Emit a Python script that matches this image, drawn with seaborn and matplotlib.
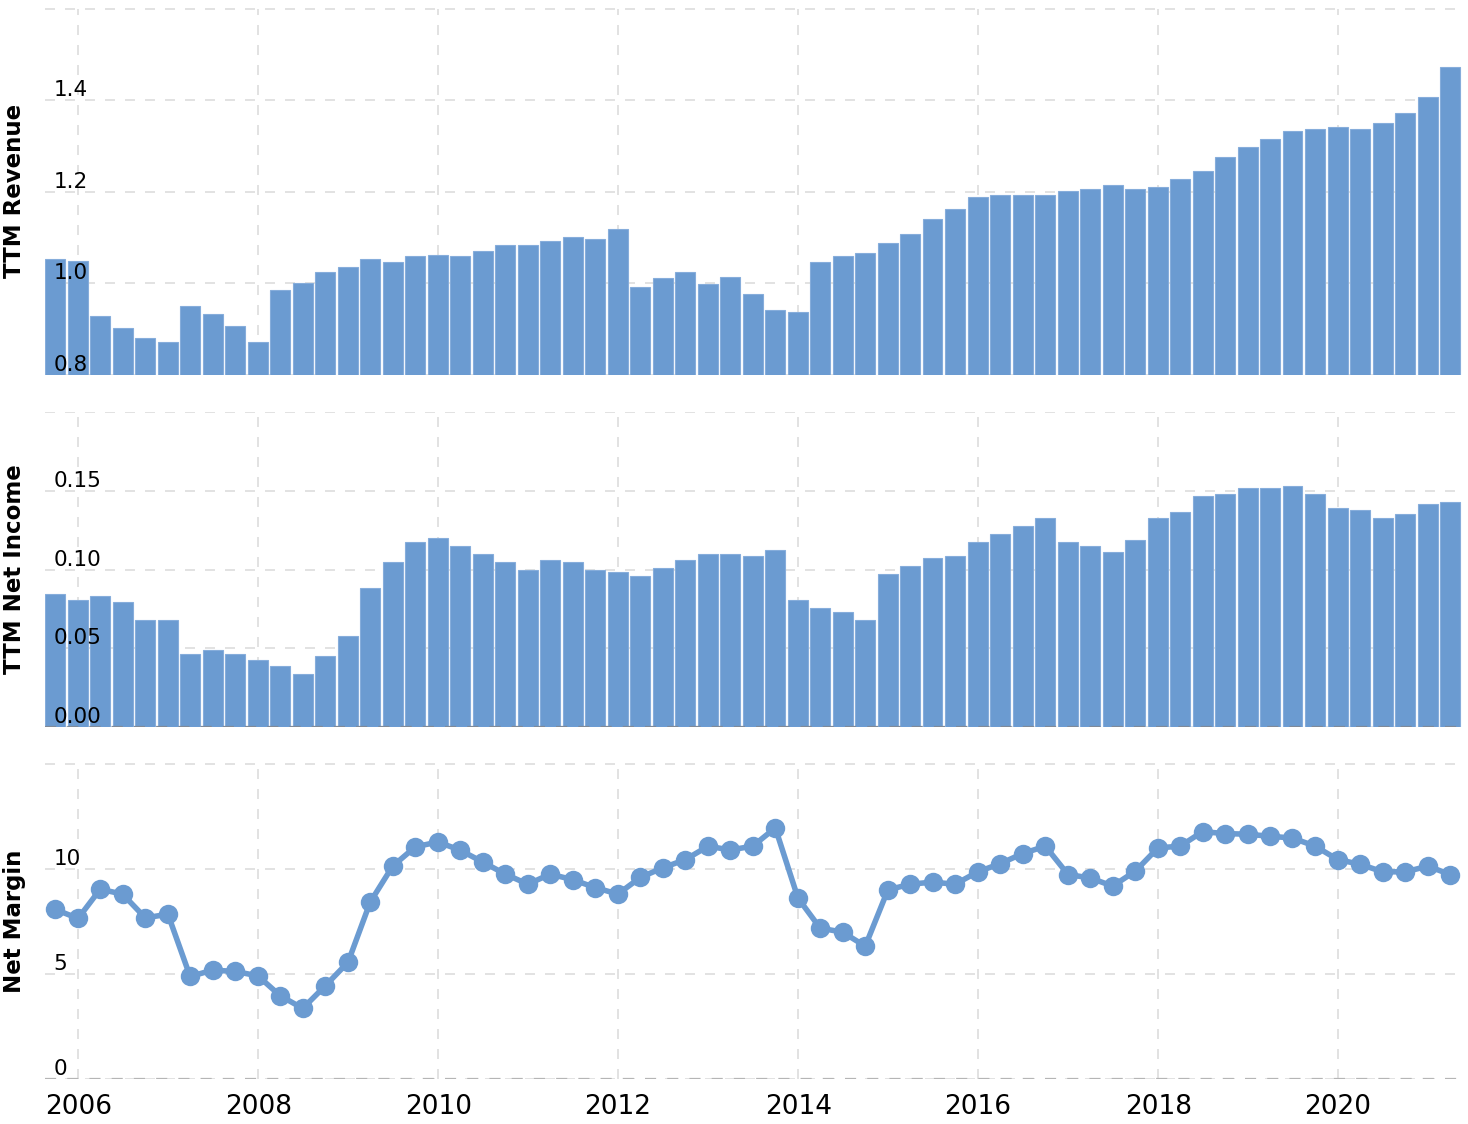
import numpy as np
import pandas as pd
import matplotlib
matplotlib.use("Agg")
import matplotlib.pyplot as plt
import matplotlib.dates as mdates
import seaborn as sns

# quarterly data, quarter ends 2005-09-30 .. 2021-03-31
quarters = pd.date_range("2005-09-30", "2021-03-31", freq="QE")

ttm_revenue = [
    1.054, 1.050, 0.928, 0.902, 0.880, 0.872, 0.950, 0.933, 0.907, 0.872,
    0.985, 1.002, 1.024, 1.037, 1.054, 1.046, 1.059, 1.063, 1.059, 1.072,
    1.085, 1.085, 1.093, 1.102, 1.098, 1.120, 0.993, 1.011, 1.024, 0.998,
    1.015, 0.976, 0.941, 0.937, 1.046, 1.059, 1.067, 1.089, 1.107, 1.141,
    1.163, 1.189, 1.193, 1.193, 1.193, 1.202, 1.207, 1.215, 1.207, 1.211,
    1.228, 1.246, 1.276, 1.298, 1.315, 1.333, 1.337, 1.341, 1.337, 1.350,
    1.372, 1.407, 1.472]

ttm_net_income = [
    0.0845, 0.0807, 0.0833, 0.0794, 0.0680, 0.0680, 0.0464, 0.0489, 0.0464, 0.0426,
    0.0388, 0.0337, 0.0451, 0.0578, 0.0883, 0.1049, 0.1176, 0.1201, 0.1150, 0.1100,
    0.1049, 0.0998, 0.1061, 0.1049, 0.0998, 0.0985, 0.0960, 0.1011, 0.1061, 0.1100,
    0.1100, 0.1087, 0.1125, 0.0807, 0.0756, 0.0731, 0.0680, 0.0972, 0.1023, 0.1074,
    0.1087, 0.1176, 0.1227, 0.1278, 0.1328, 0.1176, 0.1150, 0.1112, 0.1189, 0.1328,
    0.1367, 0.1468, 0.1481, 0.1519, 0.1519, 0.1532, 0.1481, 0.1392, 0.1379, 0.1328,
    0.1354, 0.1417, 0.1430]

net_margin = [
    8.07, 7.64, 9.03, 8.80, 7.67, 7.84, 4.88, 5.18, 5.12, 4.91,
    3.96, 3.36, 4.44, 5.56, 8.42, 10.13, 11.05, 11.28, 10.89, 10.33,
    9.75, 9.27, 9.75, 9.49, 9.11, 8.80, 9.59, 10.05, 10.44, 11.08,
    10.90, 11.08, 11.95, 8.61, 7.18, 6.99, 6.32, 9.00, 9.27, 9.37,
    9.27, 9.86, 10.25, 10.73, 11.08, 9.73, 9.57, 9.18, 9.89, 11.00,
    11.08, 11.77, 11.68, 11.65, 11.55, 11.47, 11.08, 10.44, 10.22, 9.86,
    9.86, 10.13, 9.73]

rev_ticks = [0.8, 1.0, 1.2, 1.4, 1.6]
rev_labels = ["0.8", "1.0", "1.2", "1.4", ""]
inc_ticks = [0.0, 0.05, 0.10, 0.15, 0.20]
inc_labels = ["0.00", "0.05", "0.10", "0.15", ""]
mar_ticks = [0, 5, 10, 15]
mar_labels = ["0", "5", "10", ""]

df = pd.DataFrame({
    "date": mdates.date2num(quarters.to_pydatetime()),
    "revenue": ttm_revenue,
    "income": ttm_net_income,
    "margin": net_margin,
})

sns.set_theme(style="white")
plt.rcParams["font.family"] = ["DejaVu Sans"]

blue = "#6b9bd1"
grid_c = "#e2e2e2"
dash = (0, (5, 5))

fig = plt.figure(figsize=(14.68, 11.24), dpi=100)
left, width = 45 / 1468, 1417 / 1468
ax1 = fig.add_axes([left, 1 - 375 / 1124, width, 368 / 1124])
ax2 = fig.add_axes([left, 1 - 727 / 1124, width, 315 / 1124])
ax3 = fig.add_axes([left, 1 - 1079 / 1124, width, 315.6 / 1124])

xmin = mdates.date2num(pd.Timestamp("2005-08-19").to_pydatetime())
xmax = mdates.date2num(pd.Timestamp("2021-05-18").to_pydatetime())

sns.barplot(data=df, x="date", y="revenue", native_scale=True, orient="x",
            color=blue, saturation=1, width=0.9, edgecolor="#86addb",
            linewidth=0.8, ax=ax1, zorder=2)
sns.barplot(data=df, x="date", y="income", native_scale=True, orient="x",
            color=blue, saturation=1, width=0.9, edgecolor="#86addb",
            linewidth=0.8, ax=ax2, zorder=2)
sns.lineplot(data=df, x="date", y="margin", color=blue, linewidth=4,
             marker="o", markersize=14, markeredgewidth=0, ax=ax3, zorder=2)

panels = [
    (ax1, rev_ticks, rev_labels, (0.8, 1.604), "TTM Revenue"),
    (ax2, inc_ticks, inc_labels, (0.0, 0.2003), "TTM Net Income"),
    (ax3, mar_ticks, mar_labels, (0, 15.02), "Net Margin"),
]
for ax, ticks, labels, lim, name in panels:
    ax.set_xlim(xmin, xmax)
    ax.set_ylim(*lim)
    ax.xaxis.set_major_locator(mdates.YearLocator(2))
    ax.xaxis.set_major_formatter(mdates.DateFormatter("%Y"))
    ax.set_yticks(ticks, labels=labels)
    ax.grid(False)
    ax.set_axisbelow(False)  # tick labels on top of the bars
    for t in ticks:
        ax.axhline(t, color=grid_c, linewidth=1.44, linestyle=dash, zorder=0)
    for xv in ax.get_xticks():
        ax.axvline(xv, ymax=(ticks[-1] - lim[0]) / (lim[1] - lim[0]),
                   color=grid_c, linewidth=1.44, linestyle=dash, zorder=0)
    for s in ax.spines.values():
        s.set_visible(False)
    ax.tick_params(axis="y", length=0, pad=-6, labelsize=15.5, labelcolor="black")
    ax.tick_params(axis="x", length=0, pad=11, labelsize=19, labelcolor="black")
    for lbl in ax.get_yticklabels():
        lbl.set_horizontalalignment("left")
        lbl.set_verticalalignment("bottom")
    ax.set_xlabel("")
    ax.set_ylabel(name, fontsize=16.5, fontweight="bold", color="black")
    ax.yaxis.set_label_coords(-0.0135, 0.5)
    ax.set_facecolor("white")

ax1.tick_params(axis="x", labelbottom=False)
ax2.tick_params(axis="x", labelbottom=False)

# darker zero lines
ax2.axhline(0, color="#7f8a99", linewidth=1.6, linestyle=dash, zorder=3)
ax3.axhline(0, color="#b5b5b5", linewidth=1.6, linestyle=dash, zorder=3)

fig.savefig("out.png", dpi=100, facecolor="white")
